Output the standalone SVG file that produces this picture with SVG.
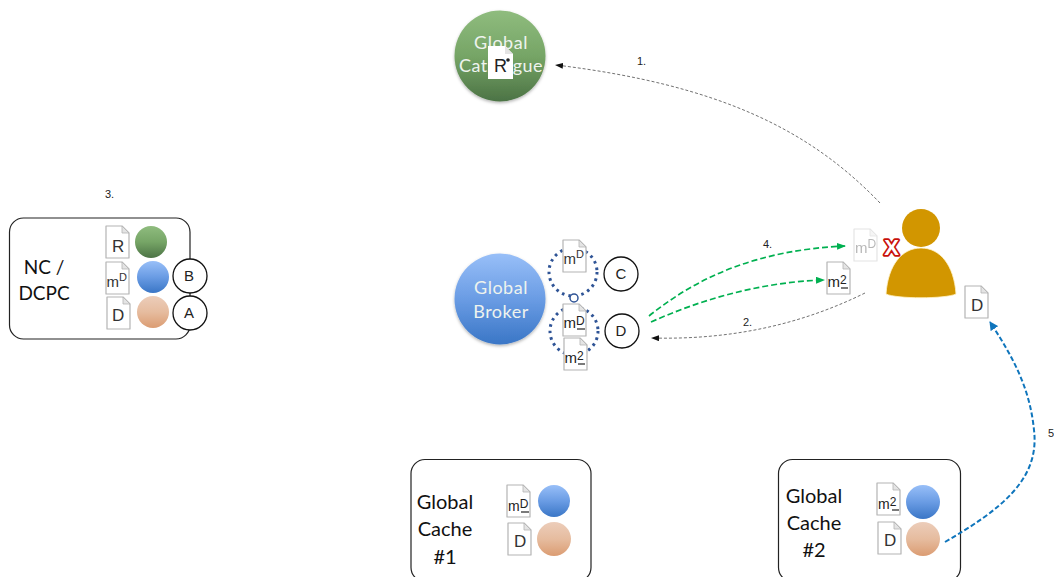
<svg xmlns="http://www.w3.org/2000/svg" width="1054" height="577" viewBox="0 0 1054 577">
<style>
.lat{font-family:"Lato","Open Sans",sans-serif}
.big{font-size:20px;fill:#111;text-anchor:middle}
.nc{font-size:19px}
.wh{font-size:18px;fill:#eef3ee;text-anchor:middle;letter-spacing:.5px}
.sm{font-family:"Liberation Sans",Arial,sans-serif;font-size:11px;fill:#222}
.dt{font-family:"Liberation Sans",Arial,sans-serif;font-size:17px;fill:#333}
.su{font-size:11px}
.box{fill:#fff;stroke:#222;stroke-width:1.2}
.tag{fill:#fff;stroke:#111;stroke-width:1.3}
.tt{font-family:"Liberation Sans",Arial,sans-serif;font-size:15px;fill:#222;text-anchor:middle}
.ul{stroke:#222;stroke-width:1.2}
.dot{fill:none;stroke:#2f5496;stroke-width:3;stroke-dasharray:2.6 4}
.k{fill:none;stroke:#333;stroke-width:.7;stroke-dasharray:3 2}
.g{fill:none;stroke:#00b050;stroke-width:1.7;stroke-dasharray:6 3}
.b{fill:none;stroke:#0f75bc;stroke-width:2;stroke-dasharray:5 2.5}
</style>
<defs>
<linearGradient id="gg" x1="0" y1="0" x2="0" y2="1"><stop offset="0" stop-color="#8fbc7e"/><stop offset=".5" stop-color="#76a566"/><stop offset="1" stop-color="#4c7345"/></linearGradient>
<linearGradient id="bg" x1="0" y1="0" x2="0" y2="1"><stop offset="0" stop-color="#98bff8"/><stop offset=".5" stop-color="#6a9ce4"/><stop offset="1" stop-color="#3a76c6"/></linearGradient>
<linearGradient id="og" x1="0" y1="0" x2="0" y2="1"><stop offset="0" stop-color="#eccdba"/><stop offset=".5" stop-color="#e6bc9f"/><stop offset="1" stop-color="#db9c72"/></linearGradient>
<filter id="sh" x="-20%" y="-20%" width="140%" height="140%"><feDropShadow dx="0" dy="1.5" stdDeviation="1.5" flood-color="#000" flood-opacity=".3"/></filter>
<symbol id="doc" viewBox="0 0 25 34" width="25" height="34" overflow="visible">
<path d="M1 1H17L24 8V33H1Z" fill="#fff" stroke="#b4b4b4" stroke-width="1.2" stroke-linejoin="round"/>
<path d="M17 1V8H24Z" fill="#e4e4e4" stroke="#b4b4b4" stroke-width=".8"/>
</symbol>
<marker id="ak" markerWidth="8" markerHeight="6" refX="7" refY="3" orient="auto" markerUnits="userSpaceOnUse"><path d="M0 0L8 3L0 6Z" fill="#111"/></marker>
<marker id="ag" markerWidth="9" markerHeight="7" refX="8" refY="3.5" orient="auto" markerUnits="userSpaceOnUse"><path d="M0 0L9 3.5L0 7Z" fill="#00b050"/></marker>
<marker id="ab" markerWidth="9" markerHeight="9" refX="8" refY="4.5" orient="auto" markerUnits="userSpaceOnUse"><path d="M0 0L9 4.5L0 9Z" fill="#0f75bc"/></marker>
</defs>
<rect width="1054" height="577" fill="#fff"/>

<g id="nc-dcpc">
<rect class="box" x="9.500" y="218" width="180.500" height="121" rx="14"/>
<text class="lat big nc" x="44" y="274">NC /</text>
<text class="lat big nc" x="44" y="300">DCPC</text>
<use href="#doc" x="105" y="225"/><text class="dt" x="112" y="252">R</text>
<use href="#doc" x="105" y="261"/><text class="dt" x="106.500" y="287" style="font-size:15px">m<tspan class="su" dy="-6">D</tspan></text>
<use href="#doc" x="106" y="296"/><text class="dt" x="112" y="321">D</text>
<circle cx="151" cy="242" r="16" fill="url(#gg)"/>
<circle cx="153" cy="277" r="16" fill="url(#bg)"/>
<circle cx="153" cy="312" r="16" fill="url(#og)"/>
<circle class="tag" cx="190" cy="276" r="17"/><text class="tt" x="189" y="281">B</text>
<circle class="tag" cx="190" cy="313" r="17"/><text class="tt" x="189" y="318">A</text>
</g>

<g id="global-catalogue">
<circle cx="500" cy="56" r="45.500" fill="url(#gg)" filter="url(#sh)"/>
<text class="lat wh" x="501" y="49">Global</text>
<text class="lat wh" x="501" y="72">Catalogue</text>
<path d="M488 46H505L513 54V79H488Z" fill="#fff"/>
<path d="M505 46V54H513Z" fill="#e4e4e4"/>
<text class="dt" x="494" y="72" style="font-size:18px;fill:#222">R</text><circle cx="508" cy="60" r="1.800" fill="#222"/>
</g>

<g id="global-broker">
<circle cx="500" cy="299" r="45.500" fill="url(#bg)" filter="url(#sh)"/>
<text class="lat wh" x="501" y="294">Global</text>
<text class="lat wh" x="501" y="318">Broker</text>
</g>

<g id="broker-queues">
<circle class="dot" cx="573" cy="272" r="24"/>
<circle class="dot" cx="574" cy="331" r="24"/>
<circle cx="574" cy="298" r="4" fill="#fff" stroke="#2f5496" stroke-width="1.500"/>
<use href="#doc" x="562" y="239"/><text class="dt" x="563.500" y="264" style="font-size:15px">m<tspan class="su" dy="-6">D</tspan></text>
<use href="#doc" x="562" y="303"/><text class="dt" x="563.500" y="328" style="font-size:15px;fill:#222">m<tspan class="su" dy="-3" style="font-size:12px">D</tspan></text><line class="ul" x1="577" y1="329" x2="585" y2="329"/>
<use href="#doc" x="563" y="337"/><text class="dt" x="564.500" y="363" style="font-size:15px;fill:#222">m<tspan class="su" dy="-3" style="font-size:12px">2</tspan></text><line class="ul" x1="578" y1="364" x2="585" y2="364"/>
</g>
<g id="tag-c"><circle class="tag" cx="621" cy="274" r="17"/><text class="tt" x="621" y="279">C</text></g>
<g id="tag-d"><circle class="tag" cx="622" cy="331" r="17"/><text class="tt" x="621" y="336">D</text></g>

<g id="user">
<circle cx="921" cy="228" r="19" fill="#d29600"/>
<path d="M886 294C888 265 902 248 921 248C940 248 954 265 956 294C945 299 897 299 886 294Z" fill="#d29600" stroke="#fff3c8" stroke-width=".8"/>
<g opacity=".35"><use href="#doc" x="853" y="228"/><text class="dt" x="855" y="253" style="font-size:15px">m<tspan class="su" dy="-5" style="font-size:12px">D</tspan></text></g>
<text x="891.500" y="254.500" font-family="Liberation Sans,Arial,sans-serif" font-weight="700" font-size="22" text-anchor="middle" fill="#fff" stroke="#c8100a" stroke-width="3.500" stroke-linejoin="round" paint-order="stroke">X</text>
<use href="#doc" x="826" y="261"/><text class="dt" x="827.500" y="287" style="font-size:15px;fill:#222">m<tspan class="su" dy="-3" style="font-size:12px">2</tspan></text><line class="ul" x1="841" y1="288" x2="848" y2="288"/>
<use href="#doc" x="964" y="285"/><text class="dt" x="971" y="311">D</text>
</g>

<g id="global-cache-1">
<rect class="box" x="411" y="459.500" width="180" height="122" rx="14"/>
<text class="lat big" x="445" y="509">Global</text>
<text class="lat big" x="445" y="536">Cache</text>
<text class="lat big" x="445" y="564">#1</text>
<use href="#doc" x="506" y="484"/><text class="dt" x="508" y="511" style="font-size:14px;fill:#222">m<tspan class="su" dy="-3" style="font-size:12px">D</tspan></text><line class="ul" x1="521" y1="512" x2="529" y2="512"/>
<use href="#doc" x="507" y="522"/><text class="dt" x="514" y="547">D</text>
<circle cx="554" cy="501" r="16" fill="url(#bg)"/>
<circle cx="554" cy="539" r="17" fill="url(#og)"/>
</g>

<g id="global-cache-2">
<rect class="box" x="778.500" y="459.500" width="182" height="122" rx="14"/>
<text class="lat big" x="814" y="503">Global</text>
<text class="lat big" x="814" y="530">Cache</text>
<text class="lat big" x="814" y="557">#2</text>
<use href="#doc" x="876" y="482"/><text class="dt" x="878" y="509" style="font-size:14px;fill:#222">m<tspan class="su" dy="-3" style="font-size:12px">2</tspan></text><line class="ul" x1="892" y1="510" x2="899" y2="510"/>
<use href="#doc" x="877" y="521"/><text class="dt" x="884" y="546">D</text>
<circle cx="923" cy="502" r="17" fill="url(#bg)"/>
<circle cx="923" cy="539" r="17" fill="url(#og)"/>
</g>

<g id="connectors">
<path class="k" d="M880 203C810 130 720 85 556 65" marker-end="url(#ak)"/>
<path class="k" d="M865 293C800 325 730 340 652 338" marker-end="url(#ak)"/>
<path class="g" d="M649 316C700 275 760 250 845 246" marker-end="url(#ag)"/>
<path class="g" d="M651 322C700 300 760 282 824 280" marker-end="url(#ag)"/>
<path class="b" d="M945 542C1000 510 1040 480 1034 430C1030 390 1015 360 990 322" marker-end="url(#ab)"/>
</g>

<g id="labels">
<text class="sm" x="637" y="65">1.</text>
<text class="sm" x="743" y="326">2.</text>
<text class="sm" x="105" y="198">3.</text>
<text class="sm" x="763" y="248">4.</text>
<text class="sm" x="1048" y="437">5</text>
</g>
</svg>
